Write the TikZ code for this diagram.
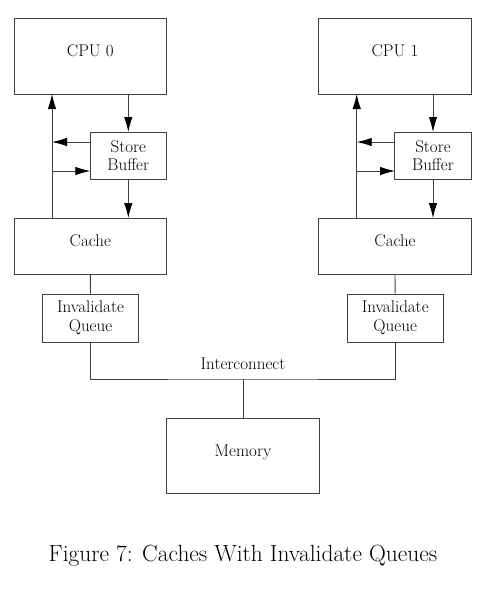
\documentclass[tikz,border=0pt]{standalone}
\usetikzlibrary{arrows.meta}
\begin{document}
\begin{tikzpicture}[x=1pt,y=-1pt,
  box/.style={draw=black!75,line width=0.9pt,inner sep=0pt,align=center,
    font=\fontsize{17}{18.7}\selectfont},
  wire/.style={draw=black!75,line width=0.9pt},
  arr/.style={wire,-{Latex[length=15pt,width=8.5pt,color=black]}}]
\useasboundingbox (0,0) rectangle (495,589);
\foreach \s/\o in {0/0,1/304.7}{
  \node[box,minimum width=152.5pt,minimum height=76pt] (cpu\s) at (90.3+\o,56) {\raisebox{10pt}{CPU \s}};
  \node[box,minimum width=76.5pt,minimum height=47pt] (sb\s) at (128.3+\o,155.5) {Store\\Buffer};
  \node[box,minimum width=152.5pt,minimum height=56pt] (cache\s) at (90.3+\o,246) {\raisebox{10pt}{Cache}};
  \node[box,minimum width=95.5pt,minimum height=48pt] (iq\s) at (90.5+\o,318) {Invalidate\\Queue};
  \coordinate (up\s) at (52+\o,94);
  \coordinate (dn\s) at (52+\o,218);
  \coordinate (la\s) at (52+\o,142);
  \coordinate (ra\s) at (52+\o,171);
  \coordinate (sbl\s) at (90.3+\o,142);
  \coordinate (sbr\s) at (90.3+\o,171);
  \coordinate (cb\s) at (128.3+\o,94);
  \coordinate (st\s) at (128.3+\o,132);
  \coordinate (sbb\s) at (128.3+\o,179);
  \coordinate (ct\s) at (128.3+\o,218);
  \draw[arr] (dn\s) -- (up\s);
  \draw[arr] (cb\s) -- (st\s);
  \draw[arr] (sbb\s) -- (ct\s);
  \draw[arr] (sbl\s) -- (la\s);
  \draw[arr] (ra\s) -- (sbr\s);
  \draw[wire] (cache\s.south) -- (iq\s.north);
}
\node[box,minimum width=152.5pt,minimum height=75pt] (mem) at (243,455.5) {\raisebox{9pt}{Memory}};
\coordinate (bus) at (243,379);
\draw[wire] (iq0.south) |- (bus) -| (iq1.south);
\draw[wire] (bus) -- (mem.north);
\node[font=\fontsize{17}{18}\selectfont] (ic) at (243,364) {Interconnect};
\node[font=\fontsize{23.4}{28}\selectfont] (cap) at (243,556) {Figure 7: Caches With Invalidate Queues};
\end{tikzpicture}
\end{document}
